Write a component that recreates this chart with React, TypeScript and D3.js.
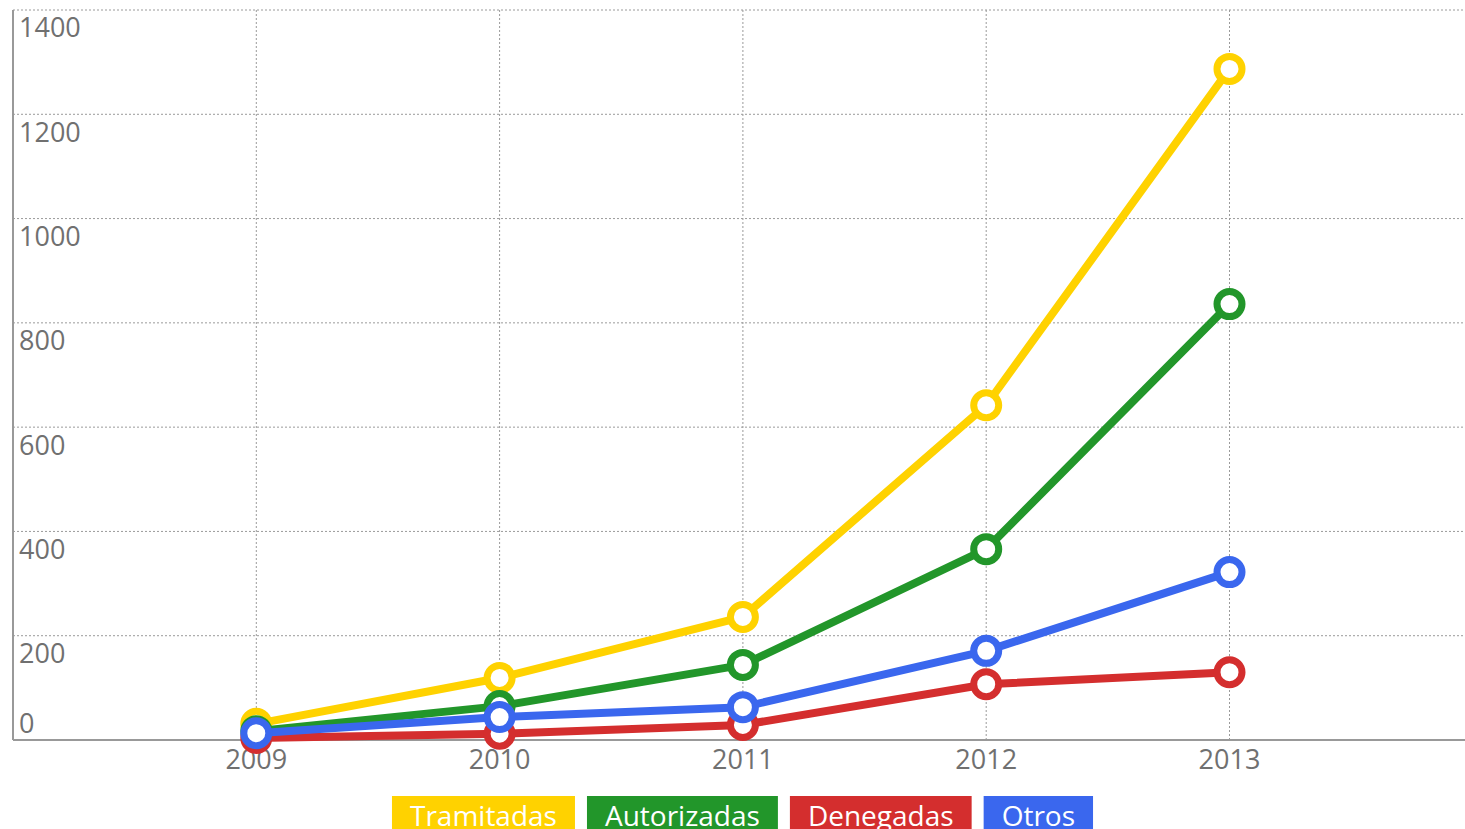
import React, { useEffect, useRef } from 'react';
import * as d3 from 'd3';

const years = [2009, 2010, 2011, 2012, 2013];
const yTicks = [0, 200, 400, 600, 800, 1000, 1200, 1400];

const tramitadas = [31, 119, 236, 642, 1287];
const autorizadas = [17, 65, 144, 366, 836];
const denegadas = [4, 12, 29, 107, 130];
const otros = [13, 44, 63, 171, 322];

const seriesNames = ['Tramitadas', 'Autorizadas', 'Denegadas', 'Otros'];
const seriesColors = ['#ffd200', '#22962a', '#d42e2e', '#3a67ee'];

function App() {
  const ref = useRef<SVGSVGElement>(null);

  useEffect(() => {
    const svg = d3.select(ref.current);
    svg.selectAll('*').remove();

    const width = 1465;
    const left = 13, top = 10, bottom = 740;
    const font = "'Open Sans', 'DejaVu Sans', sans-serif";

    const x = d3.scaleLinear().domain([2008, 2014]).range([left, left + 6 * 243.3]);
    const y = d3.scaleLinear().domain([0, 1400]).range([bottom, top]);

    // grid
    const grid = svg.append('g');
    grid.selectAll('line.h')
      .data(yTicks.filter(d => d > 0))
      .enter().append('line')
      .attr('x1', left).attr('x2', width)
      .attr('y1', d => y(d)).attr('y2', d => y(d))
      .attr('stroke', '#9a9a9a').attr('stroke-width', 1).attr('stroke-dasharray', '2,2');
    grid.selectAll('line.v')
      .data(years)
      .enter().append('line')
      .attr('x1', d => x(d)).attr('x2', d => x(d))
      .attr('y1', top).attr('y2', bottom)
      .attr('stroke', '#9a9a9a').attr('stroke-width', 1).attr('stroke-dasharray', '2,2');

    // axis lines
    svg.append('line').attr('x1', left).attr('x2', left).attr('y1', top).attr('y2', bottom)
      .attr('stroke', '#999').attr('stroke-width', 2);
    svg.append('line').attr('x1', left).attr('x2', width).attr('y1', bottom).attr('y2', bottom)
      .attr('stroke', '#999').attr('stroke-width', 2);

    // y labels
    svg.append('g').selectAll('text')
      .data(yTicks)
      .enter().append('text')
      .attr('x', 19)
      .attr('y', d => (d === 0 ? y(d) - 16 : y(d) + 18))
      .attr('dy', '0.35em')
      .attr('fill', '#707070')
      .style('font-family', font)
      .style('font-size', '27px')
      .text(d => d);

    // x labels
    svg.append('g').selectAll('text')
      .data(years)
      .enter().append('text')
      .attr('x', d => x(d))
      .attr('y', 760)
      .attr('dy', '0.35em')
      .attr('text-anchor', 'middle')
      .attr('fill', '#707070')
      .style('font-family', font)
      .style('font-size', '27px')
      .text(d => d);

    const allSeries = [tramitadas, autorizadas, denegadas, otros];
    const line = d3.line<number>().x((d, i) => x(years[i])).y(d => y(d));

    allSeries.forEach((values, si) => {
      const g = svg.append('g');
      g.append('path')
        .datum(values)
        .attr('fill', 'none')
        .attr('stroke', seriesColors[si])
        .attr('stroke-width', 8)
        .attr('stroke-linejoin', 'round')
        .attr('d', line);
      g.selectAll('circle')
        .data(values)
        .enter().append('circle')
        .attr('cx', (d, i) => x(years[i]))
        .attr('cy', d => y(d))
        .attr('r', 12.5)
        .attr('fill', '#fff')
        .attr('stroke', seriesColors[si])
        .attr('stroke-width', 7);
    });

    // legend
    const legend = svg.append('g');
    const items = seriesNames.map((name, i) => {
      const g = legend.append('g');
      const rect = g.append('rect').attr('fill', seriesColors[i]);
      const t = g.append('text')
        .attr('fill', '#fff')
        .style('font-family', font)
        .style('font-size', '28px')
        .attr('text-anchor', 'middle')
        .text(name);
      const w = (t.node() as SVGTextElement).getComputedTextLength() + 36;
      return { rect, t, w };
    });
    const gap = 12;
    const total = d3.sum(items, d => d.w) + gap * (items.length - 1);
    let cx = 742.5 - total / 2;
    items.forEach(it => {
      it.rect.attr('x', cx).attr('y', 796).attr('width', it.w).attr('height', 40);
      it.t.attr('x', cx + it.w / 2).attr('y', 826);
      cx += it.w + gap;
    });
  }, []);

  return (
    <svg
      ref={ref}
      width={1465}
      height={829}
      style={{ position: 'absolute', left: 0, top: 0, display: 'block', background: '#fff' }}
    />
  );
}

export default App;
